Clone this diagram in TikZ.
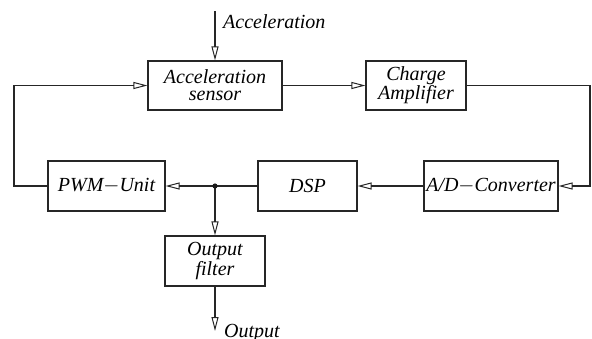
\documentclass[tikz,border=0pt]{standalone}
\usepackage{fontspec}
\setmainfont{Liberation Serif}[ItalicFont={Liberation Serif Italic}]
\usetikzlibrary{arrows.meta}
\begin{document}
\begin{tikzpicture}[x=1pt,y=-1pt,
  blk/.style={draw=black!85,line width=1.1pt,minimum height=49pt,inner sep=0pt,align=center,
    font=\fontsize{20}{17}\selectfont\itshape},
  con/.style={draw=black!85,line width=1.1pt},
  arr/.style={con,-{Triangle[open,length=14pt,width=7pt,line width=1pt]}},
  lbl/.style={font=\fontsize{20}{20}\selectfont\itshape,inner sep=0pt,anchor=base west}]
\useasboundingbox (0,0) rectangle (592,338);
\node[blk,minimum width=134pt] (sensor) at (215,85.5) {Acceleration\\sensor};
\node[blk,minimum width=100pt] (charge) at (416,85.5) {Charge\\Amplifier};
\node[blk,minimum width=134pt,minimum height=50pt] (ad) at (491,186) {A/D$-$Converter};
\node[blk,minimum width=99pt,minimum height=50pt] (dsp) at (307.5,186) {DSP};
\node[blk,minimum width=117pt,minimum height=50pt] (pwm) at (106.5,186) {PWM$-$Unit};
\node[blk,minimum width=100pt,minimum height=50pt] (filter) at (215,261) {Output\\filter};
\coordinate (in) at (215,11);
\coordinate (out) at (215,331);
\coordinate (rc) at (590,85.5);
\coordinate (lc) at (14,186);
\coordinate (j) at (215,186);
\node[lbl] (inl) at (223,28) {Acceleration};
\node[lbl] (outl) at (224,337) {Output};
\draw[arr] (in) -- (sensor.north);
\draw[arr] (sensor.east) -- (charge.west);
\draw[arr] (charge.east) -- (rc) |- (ad.east);
\draw[arr] (ad.west) -- (dsp.east);
\draw[con] (dsp.west) -- (j);
\draw[arr] (j) -- (pwm.east);
\draw[arr] (j) -- (filter.north);
\draw[arr] (pwm.west) -- (lc) |- (sensor.west);
\draw[arr] (filter.south) -- (out);
\fill[black!90] (j) circle (2.6pt);
\end{tikzpicture}
\end{document}
